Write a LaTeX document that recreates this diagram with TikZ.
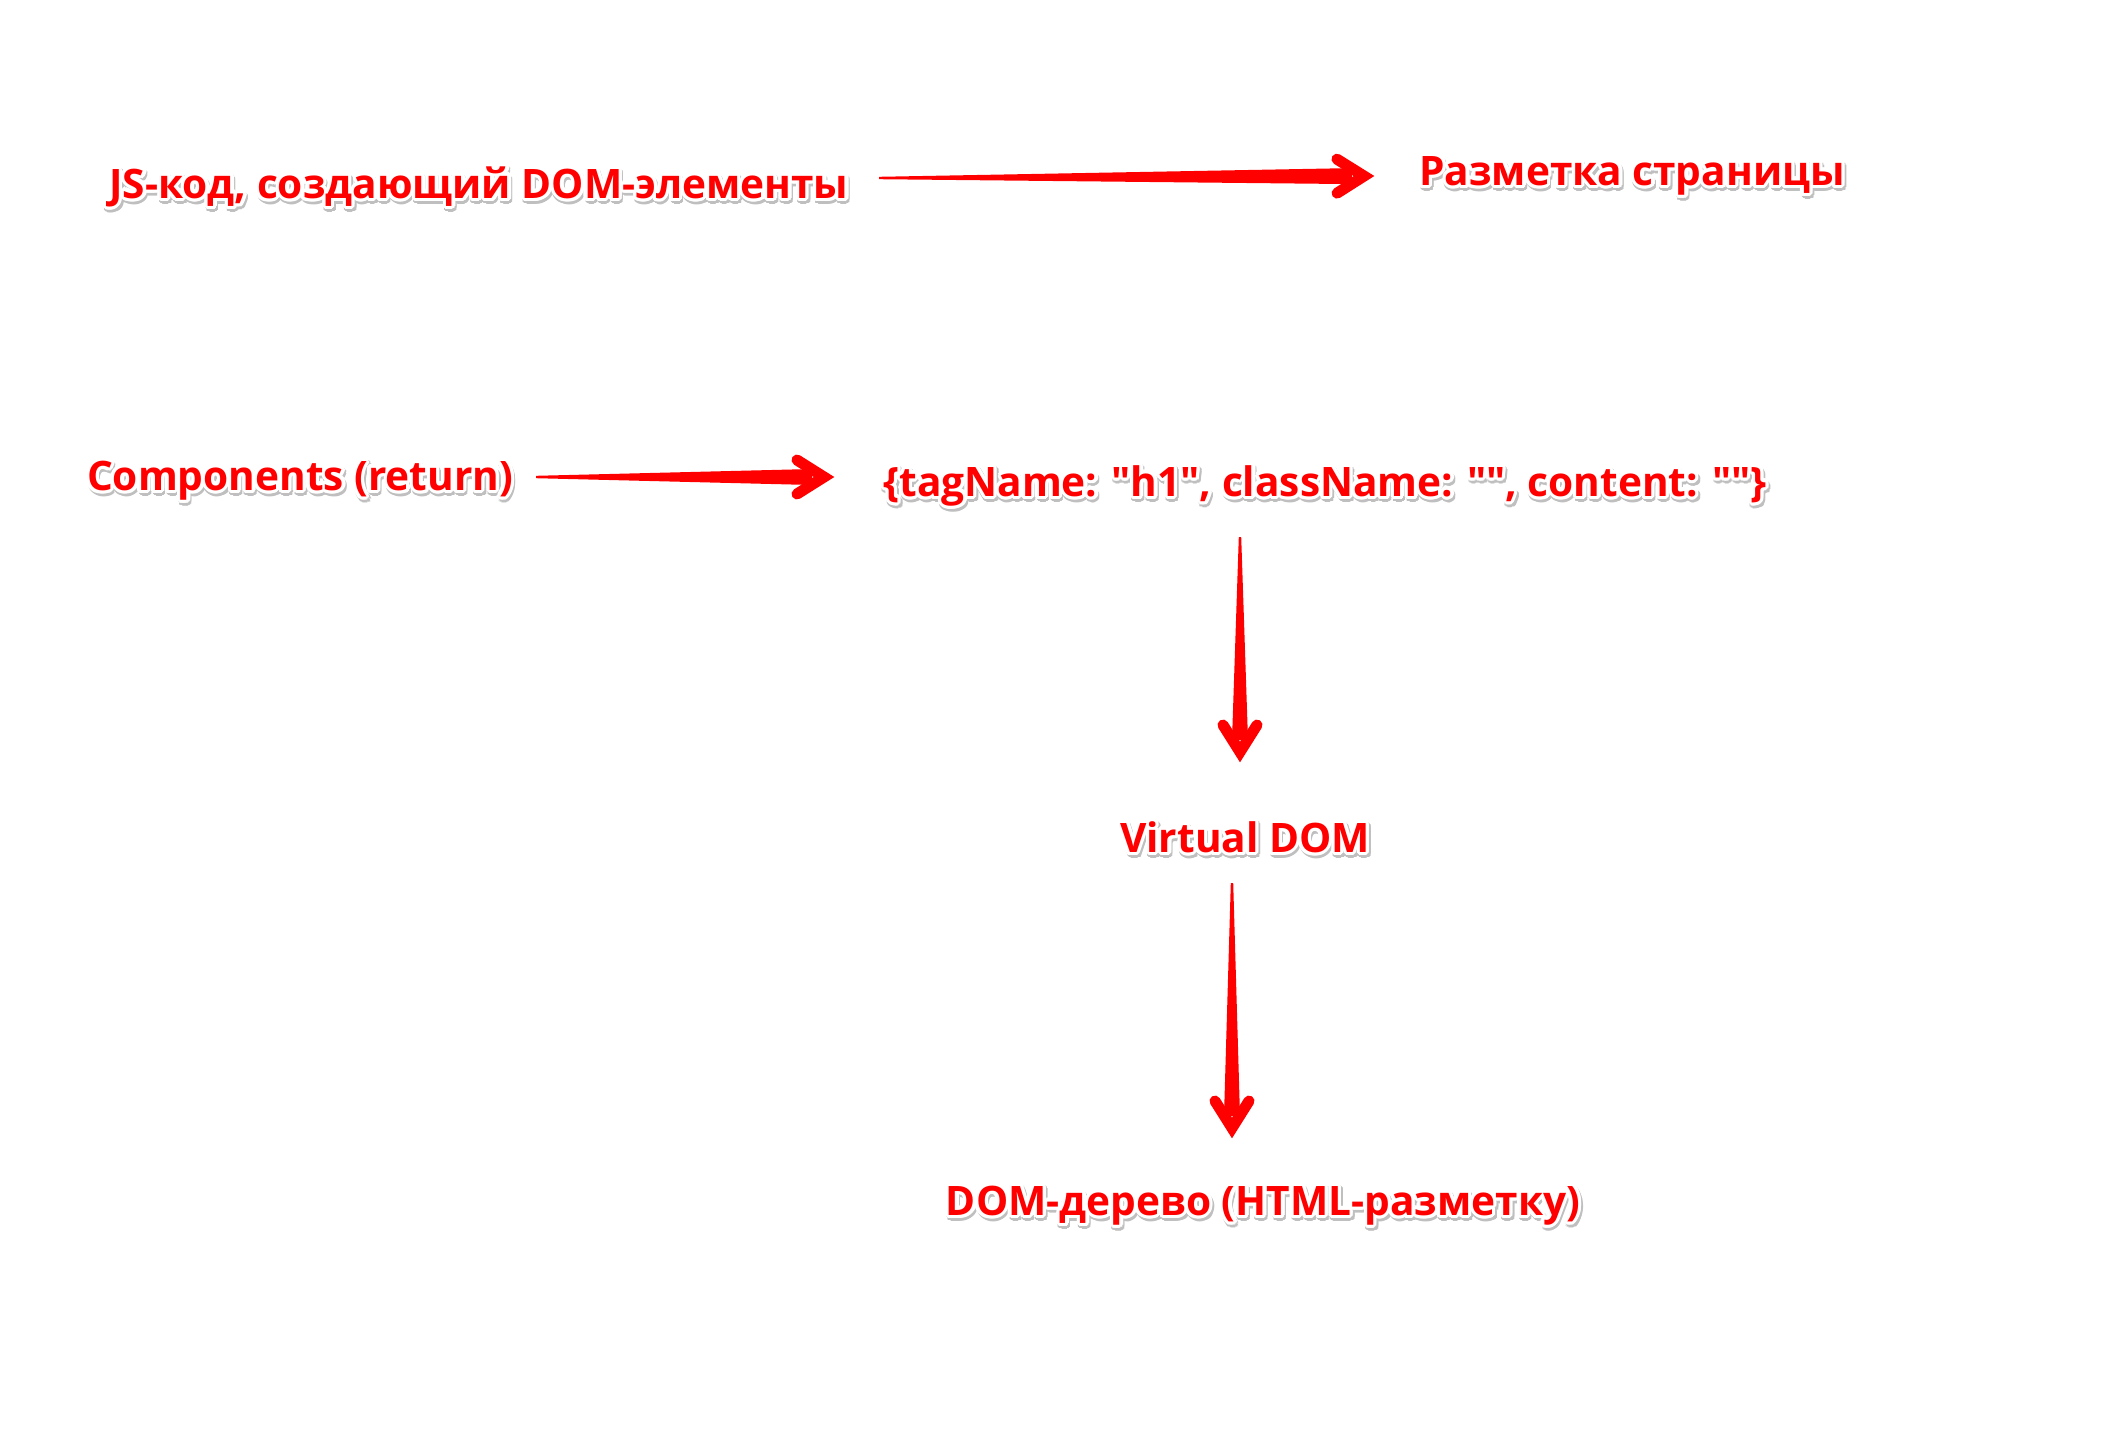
\documentclass[tikz,border=0pt]{standalone}
\usepackage{fontspec}
\setmainfont{Open Sans}[Ligatures=TeXOff]
\usepackage{contour}
\contourlength{1.7pt}
\usetikzlibrary{calc}
\newcommand\qq{\symbol{34}}
\newcommand\halo[1]{\rlap{\raisebox{-1.3pt}{\hspace{0.7pt}\color{black!25}\contour{black!25}{#1}}}\contour{white}{#1}}
\newcommand\fatarrow[2]{%
  \coordinate (fa-s) at #1;
  \coordinate (fa-e) at #2;
  \coordinate (fa-v) at ($(fa-e)!5pt!(fa-s)$);
  \coordinate (fa-b) at ($(fa-e)!18.5pt!(fa-s)$);
  \coordinate (fa-h) at ($(fa-e)!11pt!(fa-s)$);
  \fill[arrowfill] ($(fa-s)!0.6pt!90:(fa-e)$) -- ($(fa-h)!4pt!-90:(fa-s)$) -- ($(fa-h)!4pt!90:(fa-s)$) -- ($(fa-s)!0.6pt!-90:(fa-e)$) -- cycle;
  \draw[arrowhead] ($(fa-b)!8.5pt!90:(fa-e)$) -- (fa-v) -- ($(fa-b)!8.5pt!-90:(fa-e)$);
}
\tikzset{
  lbl/.style={text=red, font=\fontsize{20.3}{24}\selectfont\bfseries, inner sep=0pt, text height=15.2pt, text depth=5.1pt},
  arrowfill/.style={fill=red},
  arrowhead/.style={draw=red, line width=5.5pt, line cap=round, line join=miter}
}
\begin{document}
\begin{tikzpicture}[x=0.5pt,y=-0.5pt]
\fill[white] (0,0) rectangle (2126,1446);
\node[lbl] (t1) at (479,188) {\halo{JS-код, создающий DOM-элементы}};
\node[lbl] (t2) at (1632,175) {\halo{Разметка страницы}};
\node[lbl] (t3) at (300,480) {\halo{Components (return)}};
\node[lbl] (t4) at (1325,486) {\halo{\{tagName: \qq h1\qq, className: \qq\qq, content: \qq\qq\}}};
\node[lbl] (t5) at (1245,842) {\halo{Virtual DOM}};
\node[lbl] (t6) at (1263,1205) {\halo{DOM-дерево (HTML-разметку)}};
\fatarrow{($(t1.center)+(400,-10)$)}{($(t2.center)+(-258,1)$)}
\fatarrow{($(t3.center)+(236,-3)$)}{($(t4.center)+(-491,-9)$)}
\fatarrow{($(t4.center)+(-85,51)$)}{($(t5.center)+(-5,-80)$)}
\fatarrow{($(t5.center)+(-13,41)$)}{($(t6.center)+(-31,-67)$)}
\end{tikzpicture}
\end{document}
